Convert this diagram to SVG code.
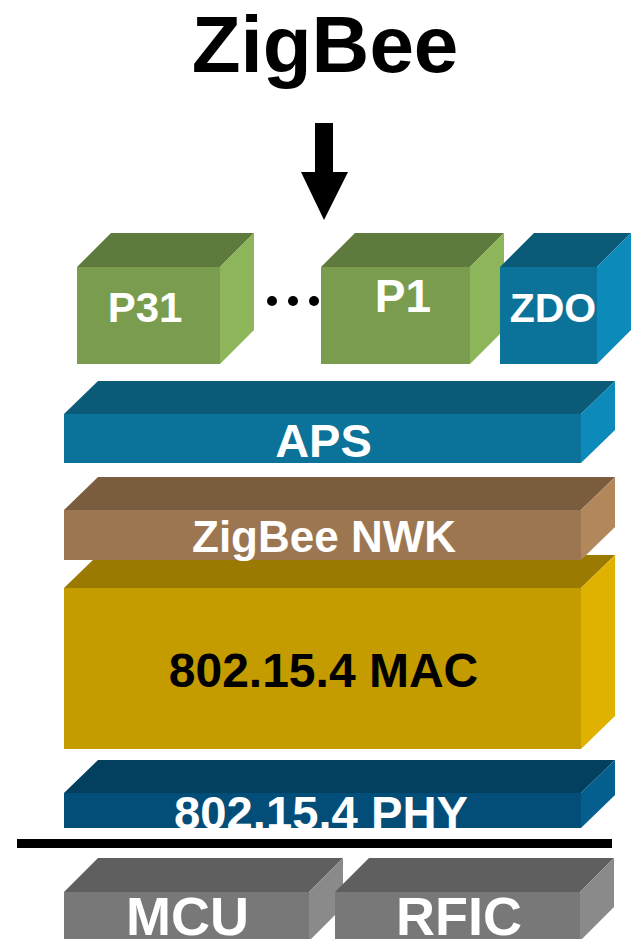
<svg xmlns="http://www.w3.org/2000/svg" width="635" height="939" viewBox="0 0 635 939">
<style>
text{font-family:"Liberation Sans",Arial,sans-serif;font-weight:bold;text-anchor:middle}
.w{fill:#ffffff}
.k{fill:#000000}
.gF{fill:#7a9c4e}.gT{fill:#5e7a3c}.gR{fill:#8db65b}
.bF{fill:#0b7399}.bT{fill:#0a5a78}.bR{fill:#0c8ab9}
.nF{fill:#9c7650}.nT{fill:#7a5c3e}.nR{fill:#b3875c}
.mF{fill:#c49c00}.mT{fill:#9a7a00}.mR{fill:#e0b200}
.pF{fill:#034e78}.pT{fill:#033f5e}.pR{fill:#045f8f}
.hF{fill:#787878}.hT{fill:#5f5f5f}.hR{fill:#8a8a8a}
</style>
<defs>
<clipPath id="phyClip"><rect x="64" y="793" width="517" height="35"/></clipPath>
</defs>
<rect width="635" height="939" fill="#ffffff"/>
<text class="k" x="325" y="72" font-size="80">ZigBee</text>
<g id="connectors">
<polygon class="k" points="315,123 333,123 333,172 348,172 324,220 301,172 315,172"/>
</g>
<g id="P31">
<polygon class="gT" points="77,267 111,233 254,233 220,267"/>
<polygon class="gR" points="220,267 254,233 254,330 220,364"/>
<rect class="gF" x="77" y="267" width="143" height="97"/>
<text class="w" x="145" y="322" font-size="42">P31</text>
</g>
<g id="ellipsis">
<circle class="k" cx="272" cy="301" r="5"/>
<circle class="k" cx="293" cy="301" r="5"/>
<circle class="k" cx="314" cy="301" r="5"/>
</g>
<g id="P1">
<polygon class="gT" points="321,267 355,233 504,233 470,267"/>
<polygon class="gR" points="470,267 504,233 504,330 470,364"/>
<rect class="gF" x="321" y="267" width="149" height="97"/>
<text class="w" x="403" y="312" font-size="46">P1</text>
</g>
<g id="ZDO">
<polygon class="bT" points="500,267 534,233 631,233 597,267"/>
<polygon class="bR" points="597,267 631,233 631,330 597,364"/>
<rect class="bF" x="500" y="267" width="97" height="97"/>
<text class="w" x="553" y="322" font-size="41">ZDO</text>
</g>
<g id="APS">
<polygon class="bT" points="64,414 98,381 615,381 581,414"/>
<polygon class="bR" points="581,414 615,381 615,430 581,463"/>
<rect class="bF" x="64" y="414" width="517" height="49"/>
<text class="w" x="323.5" y="457" font-size="47">APS</text>
</g>
<g id="MAC">
<polygon class="mT" points="64,588 98,555 615,555 581,588"/>
<polygon class="mR" points="581,588 615,555 615,716 581,749"/>
<rect class="mF" x="64" y="588" width="517" height="161"/>
<text class="k" x="323.5" y="687" font-size="48">802.15.4 MAC</text>
</g>
<g id="NWK">
<polygon class="nT" points="64,510 98,477 615,477 581,510"/>
<polygon class="nR" points="581,510 615,477 615,527 581,560"/>
<rect class="nF" x="64" y="510" width="517" height="50"/>
<text class="w" x="324" y="552" font-size="44">ZigBee NWK</text>
</g>
<g id="PHY">
<polygon class="pT" points="64,793 98,760 615,760 581,793"/>
<polygon class="pR" points="581,793 615,760 615,795 581,828"/>
<rect class="pF" x="64" y="793" width="517" height="35"/>
<text class="w" x="321" y="829" font-size="46" textLength="294" lengthAdjust="spacingAndGlyphs" clip-path="url(#phyClip)">802.15.4 PHY</text>
</g>
<g id="divider">
<rect class="k" x="17" y="839" width="595" height="9"/>
</g>
<g id="MCU">
<polygon class="hT" points="64,892 98,858 343,858 309,892"/>
<polygon class="hR" points="309,892 343,858 343,907 309,941"/>
<rect class="hF" x="64" y="892" width="245" height="49"/>
<text class="w" x="187.5" y="935" font-size="54">MCU</text>
</g>
<g id="RFIC">
<polygon class="hT" points="335,892 369,858 614,858 580,892"/>
<polygon class="hR" points="580,892 614,858 614,907 580,941"/>
<rect class="hF" x="335" y="892" width="245" height="49"/>
<text class="w" x="459" y="935" font-size="54">RFIC</text>
</g>
</svg>
